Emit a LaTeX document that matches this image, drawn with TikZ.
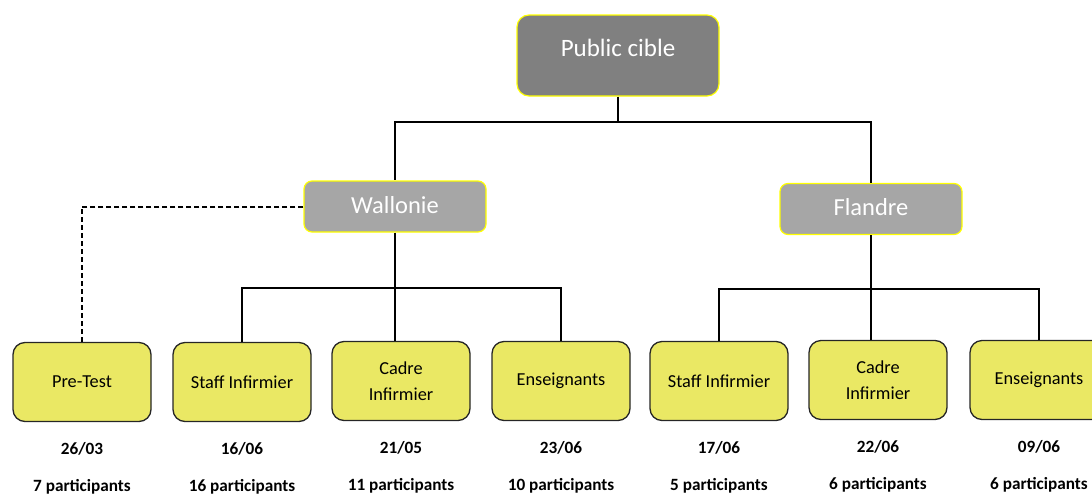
\documentclass[tikz,border=0pt]{standalone}
\usepackage{fontspec}
\setmainfont{Carlito}
\usetikzlibrary{positioning}
\definecolor{headgray}{HTML}{808080}
\definecolor{regiongray}{HTML}{A6A6A6}
\definecolor{groupfill}{HTML}{EAE864}
\definecolor{groupedge}{HTML}{262626}
\definecolor{headedge}{HTML}{FFFF00}

\begin{document}
\begin{tikzpicture}[
      x=1pt, y=-1pt,
      font=\fontsize{18.3}{26}\selectfont,
      head/.style={draw=headedge, line width=1.2pt, rounded corners=12pt,
                   fill=headgray, text=white, minimum width=202pt,
                   minimum height=81pt, text depth=15pt,
                   font=\fontsize{25}{28}\selectfont},
      region/.style={head, fill=regiongray, rounded corners=8pt,
                     minimum width=182pt, minimum height=51pt,
                     text depth=4pt, font=\fontsize{24.5}{28}\selectfont},
      group/.style={draw=groupedge, line width=1.3pt, rounded corners=12pt,
                    fill=groupfill, align=center, minimum width=138pt,
                    minimum height=79pt},
      info/.style={inner sep=0pt, font=\bfseries\fontsize{17.2}{20}\selectfont},
      link/.style={line width=2pt}
    ]
    \useasboundingbox (0,0) rectangle (1092,498);

    \node[head] (cible) at (618,55.5) {Public cible};
    \node[region] (wal) at (395,206.5) {Wallonie};
    \node[region] (fla) at (871,209) {Flandre};

    \node[group] (pre) at (82,382) {Pre-Test};
    \node[group] (staffW) at (242,382) {Staff Infirmier};
    \node[group] (cadW) at (401,381) {Cadre\\Infirmier};
    \node[group] (ensW) at (561,381) {Enseignants};
    \node[group] (staffF) at (719,381) {Staff Infirmier};
    \node[group] (cadF) at (878,380) {Cadre\\Infirmier};
    \node[group] (ensF) at (1039,380) {Enseignants};

    % dates and head counts under each group
    \foreach \n/\dd/\mm/\k in {pre/26/03/7, staffW/16/06/16, cadW/21/05/11,
                               ensW/23/06/10, staffF/17/06/5, cadF/22/06/6,
                               ensF/09/06/6}{
      \node[info, below=20pt of \n] (\n date) {\dd/\mm};
      \node[info, below=24pt of \n date] (\n count) {\k{} participants};
    }

    % tree
    \draw[link] (cible.south) -- ++(0,25) coordinate (topbar) -| (wal.north);
    \draw[link] (topbar) -| (fla.north);

    \draw[link] (wal.south) -- (wal.south |- cadW.north);
    \draw[link] (wal.south) ++(0,55) coordinate (walbar);
    \draw[link] (staffW.north) |- (walbar) -| (ensW.north);

    \draw[link] (fla.south) -- (fla.south |- cadF.north);
    \draw[link] (fla.south) ++(0,54) coordinate (flabar);
    \draw[link] (staffF.north) |- (flabar) -| (ensF.north);

    % pre-test hangs off Wallonie
    \draw[line width=2pt, dash pattern=on 5pt off 3pt] (wal.west) -| (pre.north);
  \end{tikzpicture}
\end{document}
